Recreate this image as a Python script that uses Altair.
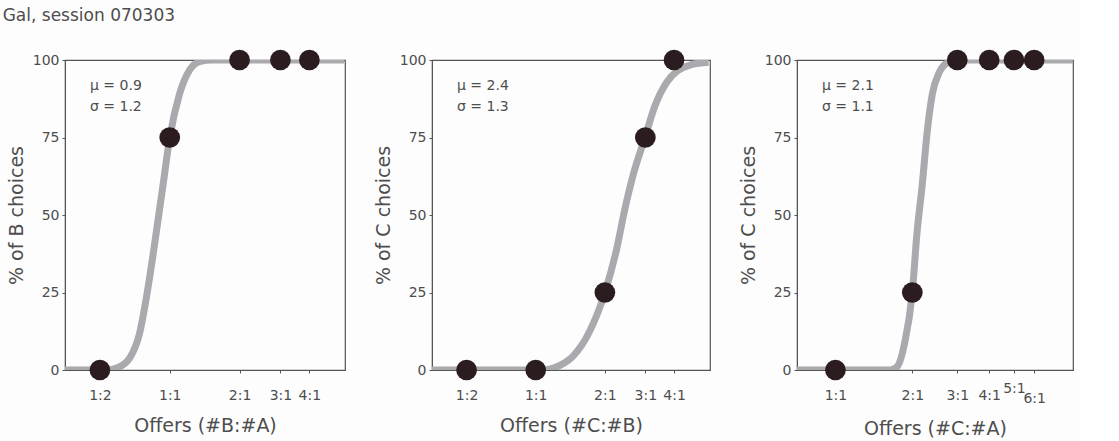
import altair as alt
import pandas as pd

TITLE = "Gal, session 070303"
Y_TICKS = [0, 25, 50, 75, 100]

# ---- panel 1 : B vs A
p1_ratio = [0.5, 1, 2, 3, 4]
p1_pct = [0, 75, 100, 100, 100]
p1_curve_log2x = [-1.5, -0.9, -0.76, -0.57, -0.43, -0.33, -0.24, -0.17, -0.1, 0.0, 0.14, 0.29, 0.43, 0.6, 2.5]
p1_curve_pct = [0, 0, 0.6, 4, 12, 24, 37, 48, 59, 75, 89, 97, 99.5, 100, 100]
p1_ticks = [0.5, 1, 2, 3, 4]
p1_labels = ["1:2", "1:1", "2:1", "3:1", "4:1"]
p1_params = ["\u03bc = 0.9", "\u03c3 = 1.2"]

# ---- panel 2 : C vs B
p2_ratio = [0.5, 1, 2, 3, 4]
p2_pct = [0, 0, 25, 75, 100]
p2_curve_log2x = [-1.5, 0.1, 0.2, 0.35, 0.54, 0.78, 1.0, 1.17, 1.29, 1.41, 1.58, 1.72, 1.9, 2.05, 2.25, 2.5]
p2_curve_pct = [0, 0, 0.3, 1.5, 4.5, 12.5, 25, 39, 52, 63, 75, 85, 93, 96.5, 98.5, 99.3]
p2_ticks = [0.5, 1, 2, 3, 4]
p2_labels = ["1:2", "1:1", "2:1", "3:1", "4:1"]
p2_params = ["\u03bc = 2.4", "\u03c3 = 1.3"]

# ---- panel 3 : C vs A
p3_ratio = [1, 2, 3, 4, 5, 6]
p3_pct = [0, 25, 100, 100, 100, 100]
p3_curve_log2x = [-0.5, 0.7, 0.8, 0.9, 1.0, 1.06, 1.13, 1.19, 1.26, 1.35, 1.45, 1.6, 3.09]
p3_curve_pct = [0, 0, 1, 8.7, 25, 44, 60, 76, 89, 96, 99, 100, 100]
p3_ticks = [1, 2, 3, 4, 5, 6]
p3_labels = ["1:1", "2:1", "3:1", "4:1", "5:1", "6:1"]
p3_params = ["\u03bc = 2.1", "\u03c3 = 1.1"]

FONT = "DejaVu Sans"
TXT = "#4d4d4d"
FRAME = "#555555"
DOT = "#2b1c1f"
CURVE = "#a9a9ae"


def label_expr(ticks, labels):
    expr = "''"
    for t, l in reversed(list(zip(ticks, labels))):
        expr = f"datum.value == {t} ? '{l}' : ({expr})"
    return expr


def panel(ratio, pct, cx, cy, ticks, labels, params, xdom_log2, ytitle, xtitle, width):
    pts = pd.DataFrame({"x": ratio, "y": pct})
    crv = pd.DataFrame({"x": [2 ** v for v in cx], "y": cy})
    xscale = alt.Scale(type="log", base=2, domain=[2 ** xdom_log2[0], 2 ** xdom_log2[1]], nice=False)
    yscale = alt.Scale(domain=[0, 100], nice=False)
    xaxis = alt.Axis(
        values=ticks, labelExpr=label_expr(ticks, labels), title=xtitle,
        labelOverlap=False, labelFlush=False, grid=False,
        tickSize=3, tickColor=FRAME, domainColor=FRAME,
        labelPadding={"condition": [{"test": "datum.value == 5", "value": 8},
                                    {"test": "datum.value == 6", "value": 18}], "value": 15},
        titlePadding=14,
    )
    yaxis = alt.Axis(
        values=Y_TICKS, title=ytitle, grid=False, tickSize=3, tickColor=FRAME,
        domainColor=FRAME, labelPadding=3, titlePadding=6,
    )
    curve = alt.Chart(crv).mark_line(
        color=CURVE, strokeWidth=7, interpolate="monotone", clip=True
    ).encode(x=alt.X("x:Q", scale=xscale, axis=xaxis), y=alt.Y("y:Q", scale=yscale, axis=yaxis))
    dots = alt.Chart(pts).mark_circle(size=430, color=DOT, opacity=1).encode(
        x=alt.X("x:Q", scale=xscale), y=alt.Y("y:Q", scale=yscale)
    )
    texts = []
    for i, p in enumerate(params):
        texts.append(
            alt.Chart(pd.DataFrame({"t": [p]})).mark_text(
                align="left", baseline="middle", font=FONT, fontSize=14, color=TXT
            ).encode(x=alt.value(25), y=alt.value(26 + 21 * i), text="t:N")
        )
    return alt.layer(curve, dots, *texts).properties(width=width, height=310)


c1 = panel(p1_ratio, p1_pct, p1_curve_log2x, p1_curve_pct, p1_ticks, p1_labels, p1_params,
           [-1.5, 2.51], "% of B choices", "Offers (#B:#A)", 280)
c2 = panel(p2_ratio, p2_pct, p2_curve_log2x, p2_curve_pct, p2_ticks, p2_labels, p2_params,
           [-1.5, 2.52], "% of C choices", "Offers (#C:#B)", 278)
c3 = panel(p3_ratio, p3_pct, p3_curve_log2x, p3_curve_pct, p3_ticks, p3_labels, p3_params,
           [-0.5, 3.09], "% of C choices", "Offers (#C:#A)", 276)

chart = alt.hconcat(c1, c2, c3, spacing=27).properties(
    title=alt.TitleParams(TITLE, anchor="start", fontSize=17, font=FONT, fontWeight="normal",
                          color=TXT, dx=-4, offset=24),
    padding={"left": 2, "top": 7, "right": 5, "bottom": 5},
    background="#fdfdfd",
).configure_view(stroke=FRAME, strokeWidth=1.2).configure_axis(
    labelFont=FONT, titleFont=FONT, labelFontSize=14, titleFontSize=19,
    labelColor=TXT, titleColor=TXT, titleFontWeight="normal",
)

chart.save("out.html", embed_options={"renderer": "svg", "actions": False})
